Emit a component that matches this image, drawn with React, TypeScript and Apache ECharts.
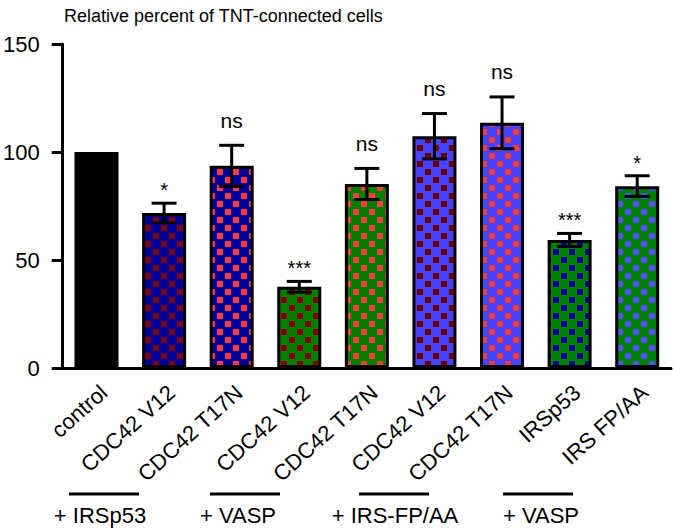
import React, { useEffect, useRef } from "react";
import * as echarts from "echarts";

// ---- data ----
const categories = [
  "control",
  "CDC42 V12",
  "CDC42 T17N",
  "CDC42 V12",
  "CDC42 T17N",
  "CDC42 V12",
  "CDC42 T17N",
  "IRSp53",
  "IRS FP/AA",
];
const means = [100, 71.8, 93.6, 37.6, 85.2, 107.3, 113.5, 59.3, 84.2];
const errors = [0, 4.5, 9.5, 2.5, 7.2, 10.5, 12, 3, 4.8];
const significance = ["", "*", "ns", "***", "ns", "ns", "ns", "***", "*"];
const groupLabels = ["+ IRSp53", "+ VASP", "+ IRS-FP/AA", "+ VASP"];
const yTicks = [0, 50, 100, 150];
const title = "Relative percent of TNT-connected cells";

// ---- styles ----
const FONT = "Arial, 'Liberation Sans', Helvetica, sans-serif";
const fills = [
  { bg: "#000000", sq: null },
  { bg: "#000099", sq: "#800000" },
  { bg: "#000099", sq: "#FF3B3B" },
  { bg: "#008000", sq: "#800000" },
  { bg: "#008000", sq: "#FF3B3B" },
  { bg: "#4444FF", sq: "#6B0000" },
  { bg: "#4444FF", sq: "#FF3B3B" },
  { bg: "#008000", sq: "#000099" },
  { bg: "#008000", sq: "#5050FF" },
];
// group annotation layout (pixel positions of underline centers / label centers)
const groupLayout = [
  { lineX: 104, textX: 100 },
  { lineX: 245, textX: 238 },
  { lineX: 394, textX: 395 },
  { lineX: 538, textX: 541 },
];

function makePattern(bg: string, sq: string | null): any {
  if (!sq) return bg;
  const c = document.createElement("canvas");
  c.width = 16;
  c.height = 16;
  const ctx = c.getContext("2d")!;
  ctx.fillStyle = bg;
  ctx.fillRect(0, 0, 16, 16);
  ctx.fillStyle = sq;
  ctx.fillRect(1, 1, 6, 6);
  ctx.fillRect(9, 9, 6, 6);
  return { image: c, repeat: "repeat" };
}

export default function App() {
  const ref = useRef<HTMLDivElement>(null);
  useEffect(() => {
    if (!ref.current) return;
    const chart = echarts.init(ref.current, undefined, { renderer: "svg" });
    const barData = means.map((v, i) => ({
      value: v,
      itemStyle: { color: makePattern(fills[i].bg, fills[i].sq) },
    }));
    const errData = means.map((v, i) => [i, v, errors[i]]);

    const graphics: any[] = [];
    groupLabels.forEach((g, k) => {
      const L = groupLayout[k];
      graphics.push({
        type: "line",
        shape: { x1: L.lineX - 35, y1: 494, x2: L.lineX + 35, y2: 494 },
        style: { stroke: "#000", lineWidth: 3 },
      });
      graphics.push({
        type: "text",
        x: L.textX,
        y: 515,
        style: {
          text: g,
          fill: "#000",
          font: `22px ${FONT}`,
          textAlign: "center",
          textVerticalAlign: "middle",
        },
      });
    });

    chart.setOption({
      animation: false,
      backgroundColor: "#fff",
      title: {
        text: title,
        left: 59,
        top: 2,
        textStyle: { fontFamily: FONT, fontSize: 18, fontWeight: "normal", color: "#000" },
      },
      grid: { left: 60, right: 4, top: 44, bottom: 163, containLabel: false },
      xAxis: {
        type: "category",
        data: categories,
        axisLine: { lineStyle: { color: "#000", width: 3 } },
        axisTick: { alignWithLabel: true, length: 11, lineStyle: { color: "#000", width: 3 } },
        axisLabel: {
          rotate: 42,
          interval: 0,
          margin: 13,
          align: "right",
          verticalAlign: "top",
          color: "#000",
          fontSize: 22,
          fontFamily: FONT,
        },
      },
      yAxis: {
        type: "value",
        min: yTicks[0],
        max: yTicks[yTicks.length - 1],
        interval: 50,
        splitLine: { show: false },
        axisLine: { show: true, lineStyle: { color: "#000", width: 3 } },
        axisTick: { show: true, length: 11, lineStyle: { color: "#000", width: 3 } },
        axisLabel: { color: "#000", fontSize: 22, fontFamily: FONT, margin: 23 },
      },
      series: [
        {
          type: "bar",
          data: barData,
          barWidth: 44,
          itemStyle: { borderColor: "#000", borderWidth: 3 },
        },
        {
          type: "custom",
          data: errData,
          z: 10,
          renderItem: (params: any, api: any) => {
            const i = api.value(0);
            const m = api.value(1);
            const e = api.value(2);
            const idx = params.dataIndex;
            const children: any[] = [];
            const top = api.coord([i, m + e]);
            const bot = api.coord([i, m - e]);
            const hw = 12.5;
            if (e > 0) {
              const ls = { stroke: "#000", lineWidth: 3 };
              children.push({ type: "line", shape: { x1: top[0], y1: top[1], x2: bot[0], y2: bot[1] }, style: ls });
              children.push({ type: "line", shape: { x1: top[0] - hw, y1: top[1], x2: top[0] + hw, y2: top[1] }, style: ls });
              children.push({ type: "line", shape: { x1: bot[0] - hw, y1: bot[1], x2: bot[0] + hw, y2: bot[1] }, style: ls });
            }
            const s = significance[idx];
            if (s) {
              const isStar = s.indexOf("*") >= 0;
              children.push({
                type: "text",
                x: top[0],
                y: top[1] - (isStar ? 13 : 25),
                style: {
                  text: s,
                  fill: "#000",
                  font: `${isStar ? 20 : 21}px ${FONT}`,
                  textAlign: "center",
                  textVerticalAlign: "middle",
                },
              });
            }
            return { type: "group", children };
          },
        },
      ],
      graphic: graphics,
    });
    return () => chart.dispose();
  }, []);
  return <div ref={ref} style={{ width: 675, height: 531, position: "absolute", left: 0, top: 0 }} />;
}
